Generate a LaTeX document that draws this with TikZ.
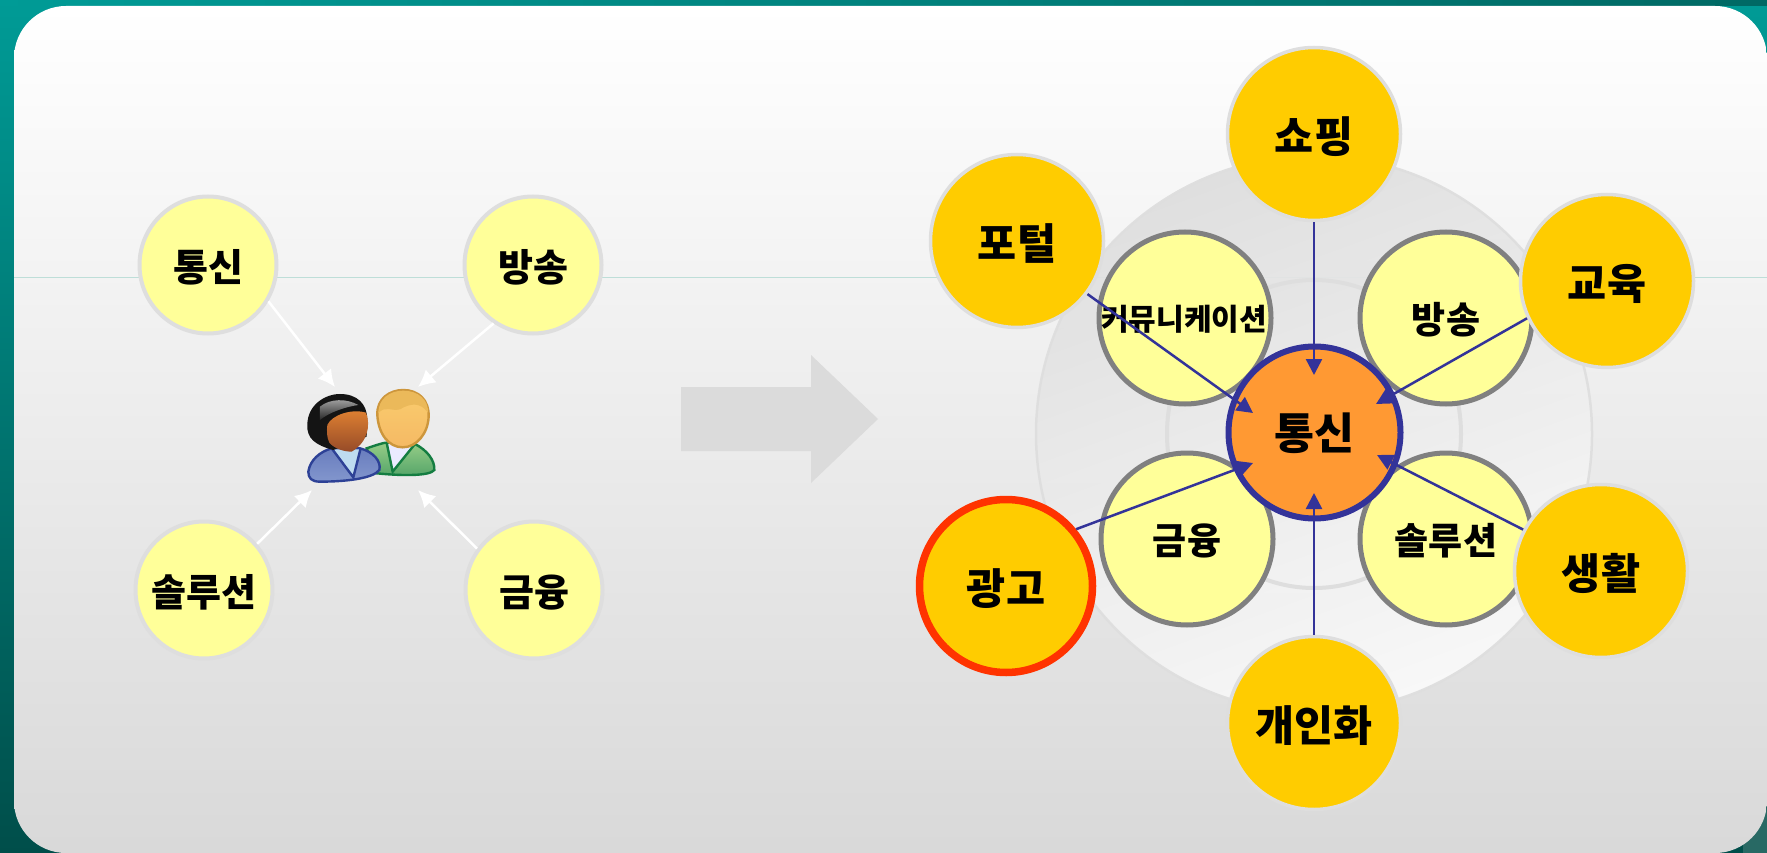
\documentclass[tikz,border=0pt]{standalone}
\usepackage{fontspec}
\usepackage{tikz}
\usetikzlibrary{positioning, calc}
\usetikzlibrary{arrows.meta}
\newfontfamily\kofont{Noto Sans CJK KR}
\definecolor{navyline}{RGB}{51,51,153}
\definecolor{goldfill}{RGB}{255,204,0}
\definecolor{paleyellow}{RGB}{255,255,153}
\definecolor{hubfill}{RGB}{255,153,51}
\definecolor{ringgray}{RGB}{222,222,222}
\definecolor{mangreen}{RGB}{20,125,65}
\definecolor{womanblue}{RGB}{45,65,150}
\tikzstyle{topicnode}=[circle,line width=4pt,draw=ringgray,fill=paleyellow,
minimum size=137pt,inner sep=0pt,text height=36pt,text depth=4pt,
font=\kofont\bfseries\fontsize{38}{38}\selectfont]
\tikzstyle{midnode}=[circle,line width=5pt,draw=black!50,fill=paleyellow,
minimum size=172pt,inner sep=0pt,text height=36pt,text depth=5pt,
font=\kofont\bfseries\fontsize{37}{37}\selectfont]
\tikzstyle{outernode}=[circle,line width=3.5pt,draw=ringgray,fill=goldfill,
minimum size=173pt,inner sep=0pt,text height=40pt,text depth=3pt,
font=\kofont\bfseries\fontsize{42.5}{42.5}\selectfont]
\tikzstyle{hubnode}=[circle,line width=6pt,draw=navyline,fill=hubfill,
minimum size=172pt,inner sep=0pt,text height=38pt,text depth=5pt,
font=\kofont\bfseries\fontsize{43.5}{43.5}\selectfont]
\tikzstyle{whitepath}=[-{Latex[width=17pt,length=17pt]},white,line width=2.5pt]
\tikzstyle{navypath}=[-{Triangle[width=16pt,length=16pt]},navyline,line width=2.5pt]
\begin{document}
\begin{tikzpicture}[x=1pt,y=-1pt]
    \useasboundingbox (0,0) rectangle (1767,853);
    \shade[top color={rgb,255:red,0;green,155;blue,150},bottom color={rgb,255:red,0;green,78;blue,74}]
        (0,0) rectangle (1767,853);
    \shade[left color={rgb,255:red,0;green,155;blue,150},right color={rgb,255:red,0;green,105;blue,100}]
        (0,0) rectangle (1767,6);
    \fill[fill={rgb,255:red,40;green,105;blue,100}] (1743,790) rectangle (1767,853);
    \shade[top color=white,middle color=black!6,bottom color=black!15,rounded corners=52pt]
        (14,6) rectangle (1767,853);

    \coordinate (hairleft) at (14,277);
    \coordinate (hairright) at (1767,277);
    \draw[color={rgb,255:red,190;green,222;blue,216},line width=1pt] (hairleft) -- (hairright);

    % left side
    \node[topicnode] (comm) at (208,265) {통신};
    \node[topicnode] (cast) at (533,265) {방송};
    \node[topicnode] (solu) at (204,590) {솔루션};
    \node[topicnode] (fina) at (534,590) {금융};

    % two people
    \begin{scope}[shift={(270,370)},x=0.3333pt,y=-0.3333pt]
        \shade[top color={rgb,255:red,150;green,205;blue,135},bottom color={rgb,255:red,85;green,165;blue,105},draw=mangreen,line width=2.4pt]
            (290,235) .. controls (320,225) and (340,218) .. (350,218) -- (435,222)
            .. controls (470,240) and (495,270) .. (493,300)
            .. controls (480,318) and (400,318) .. (320,310) -- cycle;
        \fill[white!92!blue] (350,222) -- (435,222) -- (368,305) -- cycle;
        \draw[draw=mangreen,line width=2.4pt]
            (350,218) -- (368,305) -- (435,222);
        \shade[top color={rgb,255:red,250;green,205;blue,110},bottom color={rgb,255:red,245;green,185;blue,100},draw={rgb,255:red,205;green,150;blue,60},line width=2.4pt]
            (322,135) .. controls (320,85) and (360,60) .. (400,60)
            .. controls (445,60) and (478,90) .. (476,140)
            .. controls (474,190) and (440,232) .. (398,232)
            .. controls (355,232) and (325,190) .. (322,135) -- cycle;
        \fill[fill={rgb,255:red,235;green,185;blue,90}]
            (325,130) .. controls (325,85) and (360,62) .. (400,62)
            .. controls (445,62) and (476,90) .. (474,128)
            .. controls (450,95) and (420,100) .. (390,118)
            .. controls (365,125) and (345,105) .. (325,130) -- cycle;
        \shade[top color={rgb,255:red,105;green,125;blue,190},bottom color={rgb,255:red,130;green,150;blue,205},draw=womanblue,line width=2.4pt]
            (115,305) .. controls (120,270) and (150,245) .. (185,235)
            -- (270,235) .. controls (310,245) and (335,275) .. (328,300)
            .. controls (310,325) and (230,335) .. (150,335)
            .. controls (125,335) and (115,325) .. (115,305) -- cycle;
        \fill[fill={rgb,255:red,190;green,220;blue,240}] (190,238) -- (270,238) -- (250,318) -- cycle;
        \draw[draw=womanblue,line width=2.4pt]
            (185,235) -- (250,322) -- (272,235);
        \fill[black!92] (112,165) .. controls (112,105) and (165,72) .. (210,72)
            .. controls (260,72) and (292,100) .. (292,150)
            -- (290,200) -- (190,240)
            .. controls (135,225) and (110,205) .. (112,165) -- cycle;
        \shade[top color=black!35,bottom color=black!85] (150,110) .. controls (180,85) and (230,85) .. (265,105)
            .. controls (230,110) and (180,125) .. (150,150) -- cycle;
        \shade[top color={rgb,255:red,225;green,130;blue,50},bottom color={rgb,255:red,150;green,75;blue,40}]
            (172,165) .. controls (185,135) and (245,115) .. (288,128)
            .. controls (302,165) and (295,215) .. (245,245)
            .. controls (215,245) and (190,232) .. (178,218)
            .. controls (170,200) and (170,185) .. (172,165) -- cycle;
    \end{scope}

    \coordinate (tipa) at (335,387);
    \coordinate (tipb) at (418,387);
    \coordinate (tipc) at (312,490);
    \coordinate (tipd) at (418,490);
    \draw[whitepath] (comm.-31) -- (tipa);
    \draw[whitepath] (cast.236) -- (tipb);
    \draw[whitepath] (solu.41) -- (tipc);
    \draw[whitepath] (fina.144) -- (tipd);

    % big arrow
    \fill[black!14] (681,387) -- (811,387) -- (811,355) -- (878,419)
        -- (811,483) -- (811,451) -- (681,451) -- cycle;

    % right side
    \shade[left color=black!13,right color=black!2,shading angle=20,draw=ringgray,line width=2.5pt,opacity=0.93]
        (1314,434) circle (278);
    \draw[draw=ringgray,line width=4pt] (1314,434) ellipse [x radius=147,y radius=154];

    \node[midnode] (mcom) at (1185,318) {};
    \node[midnode] (mcas) at (1446,318) {방송};
    \node[midnode] (mfin) at (1187,539) {금융};
    \node[midnode] (msol) at (1446,539) {솔루션};
    \node[font=\kofont\bfseries\fontsize{30}{30}\selectfont] (mcomtext) at (1184,319) {커뮤니케이션};
    \node[hubnode] (hub) at (1314.5,432.5) {통신};

    \node[outernode] (shop) at (1314,134) {쇼핑};
    \node[outernode] (port) at (1017,241) {포털};
    \node[outernode] (educ) at (1607,281) {교육};
    \node[outernode] (life) at (1601,571) {생활};
    \node[outernode] (pers) at (1314,723) {개인화};
    \node[outernode,draw={rgb,255:red,255;green,51;blue,0},line width=7.5pt] (adve) at (1006,586) {광고};

    \coordinate (tipshop) at (1314,375);
    \coordinate (tipport) at (1253,413);
    \coordinate (tipeduc) at (1376,404);
    \coordinate (tiplife) at (1377,455);
    \coordinate (tipadve) at (1253,463);
    \coordinate (tippers) at (1314,493);
    \draw[navypath] (shop) -- (tipshop);
    \draw[navypath] (port.-37) -- (tipport);
    \draw[navypath] (educ.205) -- (tipeduc);
    \draw[navypath] (life.152) -- (tiplife);
    \draw[navypath] (adve.39) -- (tipadve);
    \draw[navypath] (pers) -- (tippers);
\end{tikzpicture}
\end{document}
